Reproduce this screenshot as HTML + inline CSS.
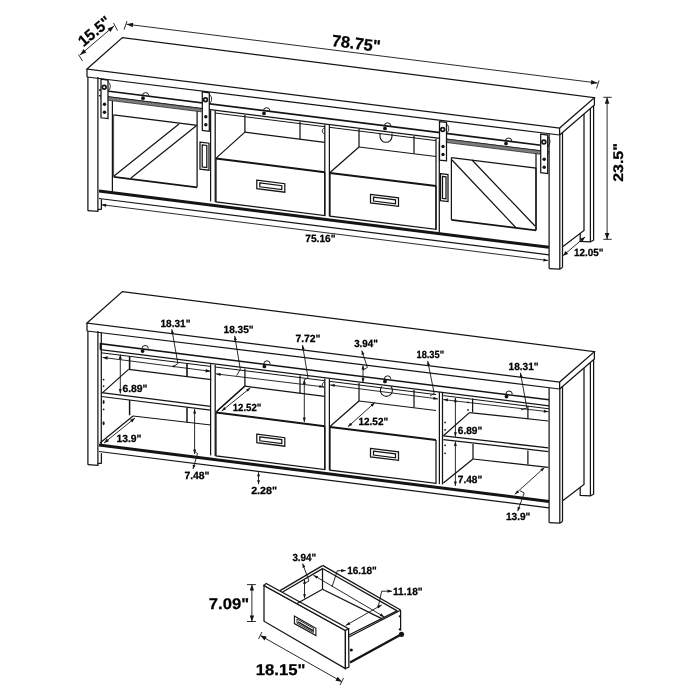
<!DOCTYPE html>
<html><head><meta charset="utf-8"><style>
html,body{margin:0;padding:0;background:#fff;}
svg{display:block;}
text{font-family:"Liberation Sans",sans-serif;font-weight:bold;fill:#000;stroke:#000;stroke-width:0.25px;text-rendering:geometricPrecision;}
svg{will-change:transform;}
</style></head><body>
<svg width="700" height="700" viewBox="0 0 700 700">
<rect width="700" height="700" fill="#fff"/>
<polygon points="87.0,69.0 122.4,37.6 594.4,97.6 559.6,128.0" fill="none" stroke="#141414" stroke-width="1.25" stroke-linejoin="miter"/>
<line x1="87.0" y1="77.0" x2="559.6" y2="135.0" stroke="#141414" stroke-width="1.25"/>
<line x1="87.0" y1="69.0" x2="87.0" y2="77.0" stroke="#141414" stroke-width="1.25"/>
<line x1="559.6" y1="128.0" x2="559.6" y2="135.0" stroke="#141414" stroke-width="1.25"/>
<polyline points="594.4,97.6 594.4,105.0 559.6,135.0" fill="none" stroke="#141414" stroke-width="1.25" stroke-linejoin="miter"/>
<line x1="87.9" y1="77.0" x2="87.9" y2="210.7" stroke="#141414" stroke-width="1.25"/>
<line x1="97.9" y1="77.0" x2="97.9" y2="209.6" stroke="#141414" stroke-width="1.25"/>
<polyline points="87.9,210.7 97.9,211.4 97.9,209.6 101.4,209.2 101.4,199.3" fill="none" stroke="#141414" stroke-width="1.25" stroke-linejoin="miter"/>
<line x1="549.1" y1="134.0" x2="549.1" y2="268.6" stroke="#141414" stroke-width="1.25"/>
<line x1="559.8" y1="135.0" x2="559.8" y2="269.1" stroke="#141414" stroke-width="1.25"/>
<line x1="562.5" y1="132.2" x2="562.5" y2="267.5" stroke="#141414" stroke-width="1.25"/>
<polyline points="549.1,268.6 559.8,269.1 562.5,267.5" fill="none" stroke="#141414" stroke-width="1.25" stroke-linejoin="miter"/>
<polyline points="584.0,114.0 584.0,230.5 563.0,246.6" fill="none" stroke="#141414" stroke-width="1.25" stroke-linejoin="miter"/>
<polyline points="580.2,233.2 580.2,241.3 590.4,241.8 593.6,240.2 593.6,105.7" fill="none" stroke="#141414" stroke-width="1.25" stroke-linejoin="miter"/>
<line x1="590.4" y1="108.4" x2="590.4" y2="241.8" stroke="#141414" stroke-width="1.25"/>
<line x1="99.0" y1="90.0" x2="549.0" y2="146.2" stroke="#141414" stroke-width="1.6"/>
<line x1="99.0" y1="95.7" x2="549.0" y2="151.9" stroke="#141414" stroke-width="1.25"/>
<line x1="99.0" y1="191.1" x2="549.0" y2="247.3" stroke="#141414" stroke-width="3"/>
<line x1="99.0" y1="198.5" x2="549.0" y2="254.8" stroke="#141414" stroke-width="1.25"/>
<line x1="101.6" y1="204.7" x2="548.0" y2="260.5" stroke="#141414" stroke-width="0.9"/>
<polygon points="101.6,204.7 106.3,203.7 105.9,206.9" fill="#141414"/>
<polygon points="548.0,260.5 543.3,261.6 543.7,258.4" fill="#141414"/>
<polygon points="101.0,96.0 201.0,108.5 201.0,111.8 101.0,99.3" fill="#b0b0b0" stroke="#141414" stroke-width="0.7" stroke-linejoin="miter"/>
<line x1="101.0" y1="96.2" x2="103.5" y2="99.5" stroke="#333" stroke-width="0.6"/>
<line x1="102.6" y1="96.4" x2="105.1" y2="99.7" stroke="#333" stroke-width="0.6"/>
<line x1="104.2" y1="96.6" x2="106.7" y2="99.9" stroke="#333" stroke-width="0.6"/>
<line x1="105.8" y1="96.8" x2="108.3" y2="100.1" stroke="#333" stroke-width="0.6"/>
<line x1="107.4" y1="97.0" x2="109.9" y2="100.3" stroke="#333" stroke-width="0.6"/>
<line x1="109.0" y1="97.2" x2="111.5" y2="100.5" stroke="#333" stroke-width="0.6"/>
<line x1="110.6" y1="97.3" x2="113.1" y2="100.7" stroke="#333" stroke-width="0.6"/>
<line x1="112.2" y1="97.5" x2="114.7" y2="100.9" stroke="#333" stroke-width="0.6"/>
<line x1="113.8" y1="97.8" x2="116.3" y2="101.1" stroke="#333" stroke-width="0.6"/>
<line x1="115.4" y1="98.0" x2="117.9" y2="101.3" stroke="#333" stroke-width="0.6"/>
<line x1="117.0" y1="98.2" x2="119.5" y2="101.5" stroke="#333" stroke-width="0.6"/>
<line x1="118.6" y1="98.3" x2="121.1" y2="101.7" stroke="#333" stroke-width="0.6"/>
<line x1="120.2" y1="98.5" x2="122.7" y2="101.9" stroke="#333" stroke-width="0.6"/>
<line x1="121.8" y1="98.8" x2="124.3" y2="102.1" stroke="#333" stroke-width="0.6"/>
<line x1="123.4" y1="98.9" x2="125.9" y2="102.3" stroke="#333" stroke-width="0.6"/>
<line x1="125.0" y1="99.1" x2="127.5" y2="102.5" stroke="#333" stroke-width="0.6"/>
<line x1="126.6" y1="99.3" x2="129.1" y2="102.7" stroke="#333" stroke-width="0.6"/>
<line x1="128.2" y1="99.5" x2="130.7" y2="102.9" stroke="#333" stroke-width="0.6"/>
<line x1="129.8" y1="99.8" x2="132.3" y2="103.1" stroke="#333" stroke-width="0.6"/>
<line x1="131.4" y1="99.9" x2="133.9" y2="103.3" stroke="#333" stroke-width="0.6"/>
<line x1="133.0" y1="100.1" x2="135.5" y2="103.5" stroke="#333" stroke-width="0.6"/>
<line x1="134.6" y1="100.3" x2="137.1" y2="103.7" stroke="#333" stroke-width="0.6"/>
<line x1="136.2" y1="100.5" x2="138.7" y2="103.9" stroke="#333" stroke-width="0.6"/>
<line x1="137.8" y1="100.7" x2="140.3" y2="104.1" stroke="#333" stroke-width="0.6"/>
<line x1="139.4" y1="100.9" x2="141.9" y2="104.3" stroke="#333" stroke-width="0.6"/>
<line x1="141.0" y1="101.1" x2="143.5" y2="104.5" stroke="#333" stroke-width="0.6"/>
<line x1="142.6" y1="101.3" x2="145.1" y2="104.7" stroke="#333" stroke-width="0.6"/>
<line x1="144.2" y1="101.5" x2="146.7" y2="104.9" stroke="#333" stroke-width="0.6"/>
<line x1="145.8" y1="101.7" x2="148.3" y2="105.1" stroke="#333" stroke-width="0.6"/>
<line x1="147.4" y1="101.9" x2="149.9" y2="105.3" stroke="#333" stroke-width="0.6"/>
<line x1="149.0" y1="102.1" x2="151.5" y2="105.5" stroke="#333" stroke-width="0.6"/>
<line x1="150.6" y1="102.3" x2="153.1" y2="105.7" stroke="#333" stroke-width="0.6"/>
<line x1="152.2" y1="102.5" x2="154.7" y2="105.9" stroke="#333" stroke-width="0.6"/>
<line x1="153.8" y1="102.7" x2="156.3" y2="106.1" stroke="#333" stroke-width="0.6"/>
<line x1="155.4" y1="102.9" x2="157.9" y2="106.3" stroke="#333" stroke-width="0.6"/>
<line x1="157.0" y1="103.1" x2="159.5" y2="106.5" stroke="#333" stroke-width="0.6"/>
<line x1="158.6" y1="103.3" x2="161.1" y2="106.7" stroke="#333" stroke-width="0.6"/>
<line x1="160.2" y1="103.5" x2="162.7" y2="106.9" stroke="#333" stroke-width="0.6"/>
<line x1="161.8" y1="103.7" x2="164.3" y2="107.1" stroke="#333" stroke-width="0.6"/>
<line x1="163.4" y1="103.9" x2="165.9" y2="107.3" stroke="#333" stroke-width="0.6"/>
<line x1="165.0" y1="104.1" x2="167.5" y2="107.5" stroke="#333" stroke-width="0.6"/>
<line x1="166.6" y1="104.3" x2="169.1" y2="107.7" stroke="#333" stroke-width="0.6"/>
<line x1="168.2" y1="104.5" x2="170.7" y2="107.9" stroke="#333" stroke-width="0.6"/>
<line x1="169.8" y1="104.7" x2="172.3" y2="108.1" stroke="#333" stroke-width="0.6"/>
<line x1="171.4" y1="104.9" x2="173.9" y2="108.3" stroke="#333" stroke-width="0.6"/>
<line x1="173.0" y1="105.1" x2="175.5" y2="108.5" stroke="#333" stroke-width="0.6"/>
<line x1="174.6" y1="105.3" x2="177.1" y2="108.7" stroke="#333" stroke-width="0.6"/>
<line x1="176.2" y1="105.5" x2="178.7" y2="108.9" stroke="#333" stroke-width="0.6"/>
<line x1="177.8" y1="105.7" x2="180.3" y2="109.1" stroke="#333" stroke-width="0.6"/>
<line x1="179.4" y1="105.9" x2="181.9" y2="109.3" stroke="#333" stroke-width="0.6"/>
<line x1="181.0" y1="106.1" x2="183.5" y2="109.5" stroke="#333" stroke-width="0.6"/>
<line x1="182.6" y1="106.3" x2="185.1" y2="109.7" stroke="#333" stroke-width="0.6"/>
<line x1="184.2" y1="106.5" x2="186.7" y2="109.9" stroke="#333" stroke-width="0.6"/>
<line x1="185.8" y1="106.7" x2="188.3" y2="110.1" stroke="#333" stroke-width="0.6"/>
<line x1="187.4" y1="106.9" x2="189.9" y2="110.3" stroke="#333" stroke-width="0.6"/>
<line x1="189.0" y1="107.1" x2="191.5" y2="110.5" stroke="#333" stroke-width="0.6"/>
<line x1="190.6" y1="107.3" x2="193.1" y2="110.7" stroke="#333" stroke-width="0.6"/>
<line x1="192.2" y1="107.5" x2="194.7" y2="110.9" stroke="#333" stroke-width="0.6"/>
<line x1="193.8" y1="107.7" x2="196.3" y2="111.1" stroke="#333" stroke-width="0.6"/>
<line x1="195.4" y1="107.9" x2="197.9" y2="111.3" stroke="#333" stroke-width="0.6"/>
<line x1="197.0" y1="108.1" x2="199.5" y2="111.5" stroke="#333" stroke-width="0.6"/>
<line x1="198.6" y1="108.3" x2="201.1" y2="111.7" stroke="#333" stroke-width="0.6"/>
<polygon points="440.0,138.3 548.0,151.8 548.0,155.2 440.0,141.7" fill="#b0b0b0" stroke="#141414" stroke-width="0.7" stroke-linejoin="miter"/>
<line x1="440.0" y1="138.5" x2="442.5" y2="141.8" stroke="#333" stroke-width="0.6"/>
<line x1="441.6" y1="138.7" x2="444.1" y2="142.0" stroke="#333" stroke-width="0.6"/>
<line x1="443.2" y1="138.9" x2="445.7" y2="142.2" stroke="#333" stroke-width="0.6"/>
<line x1="444.8" y1="139.1" x2="447.3" y2="142.4" stroke="#333" stroke-width="0.6"/>
<line x1="446.4" y1="139.3" x2="448.9" y2="142.6" stroke="#333" stroke-width="0.6"/>
<line x1="448.0" y1="139.5" x2="450.5" y2="142.8" stroke="#333" stroke-width="0.6"/>
<line x1="449.6" y1="139.7" x2="452.1" y2="143.0" stroke="#333" stroke-width="0.6"/>
<line x1="451.2" y1="139.9" x2="453.7" y2="143.2" stroke="#333" stroke-width="0.6"/>
<line x1="452.8" y1="140.1" x2="455.3" y2="143.4" stroke="#333" stroke-width="0.6"/>
<line x1="454.4" y1="140.3" x2="456.9" y2="143.6" stroke="#333" stroke-width="0.6"/>
<line x1="456.0" y1="140.5" x2="458.5" y2="143.8" stroke="#333" stroke-width="0.6"/>
<line x1="457.6" y1="140.7" x2="460.1" y2="144.0" stroke="#333" stroke-width="0.6"/>
<line x1="459.2" y1="140.9" x2="461.7" y2="144.2" stroke="#333" stroke-width="0.6"/>
<line x1="460.8" y1="141.1" x2="463.3" y2="144.4" stroke="#333" stroke-width="0.6"/>
<line x1="462.4" y1="141.3" x2="464.9" y2="144.6" stroke="#333" stroke-width="0.6"/>
<line x1="464.0" y1="141.5" x2="466.5" y2="144.8" stroke="#333" stroke-width="0.6"/>
<line x1="465.6" y1="141.7" x2="468.1" y2="145.0" stroke="#333" stroke-width="0.6"/>
<line x1="467.2" y1="141.9" x2="469.7" y2="145.2" stroke="#333" stroke-width="0.6"/>
<line x1="468.8" y1="142.1" x2="471.3" y2="145.4" stroke="#333" stroke-width="0.6"/>
<line x1="470.4" y1="142.3" x2="472.9" y2="145.6" stroke="#333" stroke-width="0.6"/>
<line x1="472.0" y1="142.5" x2="474.5" y2="145.8" stroke="#333" stroke-width="0.6"/>
<line x1="473.6" y1="142.7" x2="476.1" y2="146.0" stroke="#333" stroke-width="0.6"/>
<line x1="475.2" y1="142.9" x2="477.7" y2="146.2" stroke="#333" stroke-width="0.6"/>
<line x1="476.8" y1="143.1" x2="479.3" y2="146.4" stroke="#333" stroke-width="0.6"/>
<line x1="478.4" y1="143.3" x2="480.9" y2="146.6" stroke="#333" stroke-width="0.6"/>
<line x1="480.0" y1="143.5" x2="482.5" y2="146.8" stroke="#333" stroke-width="0.6"/>
<line x1="481.6" y1="143.7" x2="484.1" y2="147.0" stroke="#333" stroke-width="0.6"/>
<line x1="483.2" y1="143.9" x2="485.7" y2="147.2" stroke="#333" stroke-width="0.6"/>
<line x1="484.8" y1="144.1" x2="487.3" y2="147.4" stroke="#333" stroke-width="0.6"/>
<line x1="486.4" y1="144.3" x2="488.9" y2="147.6" stroke="#333" stroke-width="0.6"/>
<line x1="488.0" y1="144.5" x2="490.5" y2="147.8" stroke="#333" stroke-width="0.6"/>
<line x1="489.6" y1="144.7" x2="492.1" y2="148.0" stroke="#333" stroke-width="0.6"/>
<line x1="491.2" y1="144.9" x2="493.7" y2="148.2" stroke="#333" stroke-width="0.6"/>
<line x1="492.8" y1="145.1" x2="495.3" y2="148.4" stroke="#333" stroke-width="0.6"/>
<line x1="494.4" y1="145.3" x2="496.9" y2="148.6" stroke="#333" stroke-width="0.6"/>
<line x1="496.0" y1="145.5" x2="498.5" y2="148.8" stroke="#333" stroke-width="0.6"/>
<line x1="497.6" y1="145.7" x2="500.1" y2="149.0" stroke="#333" stroke-width="0.6"/>
<line x1="499.2" y1="145.9" x2="501.7" y2="149.2" stroke="#333" stroke-width="0.6"/>
<line x1="500.8" y1="146.1" x2="503.3" y2="149.4" stroke="#333" stroke-width="0.6"/>
<line x1="502.4" y1="146.3" x2="504.9" y2="149.6" stroke="#333" stroke-width="0.6"/>
<line x1="504.0" y1="146.5" x2="506.5" y2="149.8" stroke="#333" stroke-width="0.6"/>
<line x1="505.6" y1="146.7" x2="508.1" y2="150.0" stroke="#333" stroke-width="0.6"/>
<line x1="507.2" y1="146.9" x2="509.7" y2="150.2" stroke="#333" stroke-width="0.6"/>
<line x1="508.8" y1="147.1" x2="511.3" y2="150.4" stroke="#333" stroke-width="0.6"/>
<line x1="510.4" y1="147.3" x2="512.9" y2="150.6" stroke="#333" stroke-width="0.6"/>
<line x1="512.0" y1="147.5" x2="514.5" y2="150.8" stroke="#333" stroke-width="0.6"/>
<line x1="513.6" y1="147.7" x2="516.1" y2="151.0" stroke="#333" stroke-width="0.6"/>
<line x1="515.2" y1="147.9" x2="517.7" y2="151.2" stroke="#333" stroke-width="0.6"/>
<line x1="516.8" y1="148.1" x2="519.3" y2="151.4" stroke="#333" stroke-width="0.6"/>
<line x1="518.4" y1="148.3" x2="520.9" y2="151.6" stroke="#333" stroke-width="0.6"/>
<line x1="520.0" y1="148.5" x2="522.5" y2="151.8" stroke="#333" stroke-width="0.6"/>
<line x1="521.6" y1="148.7" x2="524.1" y2="152.0" stroke="#333" stroke-width="0.6"/>
<line x1="523.2" y1="148.9" x2="525.7" y2="152.2" stroke="#333" stroke-width="0.6"/>
<line x1="524.8" y1="149.1" x2="527.3" y2="152.4" stroke="#333" stroke-width="0.6"/>
<line x1="526.4" y1="149.3" x2="528.9" y2="152.6" stroke="#333" stroke-width="0.6"/>
<line x1="528.0" y1="149.5" x2="530.5" y2="152.8" stroke="#333" stroke-width="0.6"/>
<line x1="529.6" y1="149.7" x2="532.1" y2="153.0" stroke="#333" stroke-width="0.6"/>
<line x1="531.2" y1="149.9" x2="533.7" y2="153.2" stroke="#333" stroke-width="0.6"/>
<line x1="532.8" y1="150.1" x2="535.3" y2="153.4" stroke="#333" stroke-width="0.6"/>
<line x1="534.4" y1="150.3" x2="536.9" y2="153.6" stroke="#333" stroke-width="0.6"/>
<line x1="536.0" y1="150.5" x2="538.5" y2="153.8" stroke="#333" stroke-width="0.6"/>
<line x1="537.6" y1="150.7" x2="540.1" y2="154.0" stroke="#333" stroke-width="0.6"/>
<line x1="539.2" y1="150.9" x2="541.7" y2="154.2" stroke="#333" stroke-width="0.6"/>
<line x1="540.8" y1="151.1" x2="543.3" y2="154.4" stroke="#333" stroke-width="0.6"/>
<line x1="542.4" y1="151.3" x2="544.9" y2="154.6" stroke="#333" stroke-width="0.6"/>
<line x1="544.0" y1="151.5" x2="546.5" y2="154.8" stroke="#333" stroke-width="0.6"/>
<line x1="545.6" y1="151.7" x2="548.1" y2="155.0" stroke="#333" stroke-width="0.6"/>
<line x1="112.4" y1="100.7" x2="112.4" y2="191.7" stroke="#141414" stroke-width="1.25"/>
<line x1="113.6" y1="114.8" x2="113.6" y2="176.8" stroke="#141414" stroke-width="0.8"/>
<polyline points="113.6,114.8 197.1,125.3 197.1,187.3" fill="none" stroke="#141414" stroke-width="1.25" stroke-linejoin="miter"/>
<line x1="113.6" y1="176.8" x2="197.1" y2="187.3" stroke="#141414" stroke-width="1.8"/>
<line x1="197.1" y1="111.3" x2="197.1" y2="125.3" stroke="#141414" stroke-width="1.25"/>
<line x1="114.0" y1="176.0" x2="179.0" y2="124.0" stroke="#141414" stroke-width="1.25"/>
<line x1="131.0" y1="178.0" x2="196.0" y2="126.0" stroke="#141414" stroke-width="1.25"/>
<polygon points="200.0,142.1 209.0,143.2 209.0,170.2 200.0,169.1" fill="none" stroke="#141414" stroke-width="1.25" stroke-linejoin="miter"/>
<polygon points="202.2,144.9 206.8,145.5 206.8,167.5 202.2,166.9" fill="none" stroke="#141414" stroke-width="1.25" stroke-linejoin="miter"/>
<line x1="439.3" y1="141.5" x2="439.3" y2="232.5" stroke="#141414" stroke-width="1.25"/>
<line x1="451.4" y1="157.6" x2="451.4" y2="219.8" stroke="#141414" stroke-width="1.25"/>
<polyline points="451.4,157.6 536.0,168.1 536.0,230.3" fill="none" stroke="#141414" stroke-width="1.25" stroke-linejoin="miter"/>
<line x1="451.4" y1="219.8" x2="536.0" y2="230.3" stroke="#141414" stroke-width="1.8"/>
<line x1="536.0" y1="153.6" x2="536.0" y2="230.3" stroke="#141414" stroke-width="1.25"/>
<line x1="452.0" y1="160.0" x2="516.0" y2="227.8" stroke="#141414" stroke-width="1.25"/>
<line x1="472.0" y1="160.0" x2="535.0" y2="226.0" stroke="#141414" stroke-width="1.25"/>
<polygon points="440.5,173.7 448.0,174.6 448.0,201.6 440.5,200.7" fill="none" stroke="#141414" stroke-width="1.25" stroke-linejoin="miter"/>
<polygon points="442.5,176.4 446.0,176.9 446.0,198.9 442.5,198.4" fill="none" stroke="#141414" stroke-width="1.25" stroke-linejoin="miter"/>
<line x1="210.6" y1="110.2" x2="210.6" y2="201.4" stroke="#141414" stroke-width="1.25"/>
<line x1="215.2" y1="110.8" x2="215.2" y2="202.0" stroke="#141414" stroke-width="1.25"/>
<line x1="324.8" y1="124.5" x2="324.8" y2="215.7" stroke="#141414" stroke-width="1.25"/>
<line x1="329.4" y1="125.1" x2="329.4" y2="216.3" stroke="#141414" stroke-width="1.25"/>
<line x1="436.0" y1="138.4" x2="436.0" y2="229.6" stroke="#141414" stroke-width="1.25"/>
<polyline points="216.0,158.6 324.8,172.2" fill="none" stroke="#141414" stroke-width="2" stroke-linejoin="miter"/>
<polyline points="216.0,158.6 216.0,201.9 324.8,215.5 324.8,172.2" fill="none" stroke="#141414" stroke-width="1.25" stroke-linejoin="miter"/>
<polygon points="256.8,180.2 284.8,183.7 284.8,192.2 256.8,188.7" fill="none" stroke="#141414" stroke-width="1.25" stroke-linejoin="miter"/>
<polygon points="259.8,182.9 281.8,185.7 281.8,189.5 259.8,186.8" fill="none" stroke="#141414" stroke-width="1.25" stroke-linejoin="miter"/>
<polyline points="330.0,172.9 436.0,186.1" fill="none" stroke="#141414" stroke-width="2" stroke-linejoin="miter"/>
<polyline points="330.0,172.9 330.0,216.2 436.0,229.4 436.0,186.1" fill="none" stroke="#141414" stroke-width="1.25" stroke-linejoin="miter"/>
<polygon points="370.5,194.4 398.5,197.9 398.5,206.4 370.5,202.9" fill="none" stroke="#141414" stroke-width="1.25" stroke-linejoin="miter"/>
<polygon points="373.5,197.1 395.5,199.9 395.5,203.8 373.5,201.0" fill="none" stroke="#141414" stroke-width="1.25" stroke-linejoin="miter"/>
<line x1="215.2" y1="113.0" x2="324.8" y2="126.7" stroke="#141414" stroke-width="1"/>
<line x1="244.9" y1="114.7" x2="244.9" y2="132.1" stroke="#141414" stroke-width="1.25"/>
<line x1="300.0" y1="121.6" x2="300.0" y2="139.6" stroke="#141414" stroke-width="1.25"/>
<line x1="244.9" y1="132.1" x2="324.8" y2="142.4" stroke="#141414" stroke-width="1.25"/>
<line x1="216.1" y1="158.1" x2="244.9" y2="132.1" stroke="#141414" stroke-width="1.25"/>
<line x1="329.4" y1="127.3" x2="436.0" y2="140.6" stroke="#141414" stroke-width="1"/>
<line x1="359.0" y1="129.0" x2="359.0" y2="147.0" stroke="#141414" stroke-width="1.25"/>
<line x1="414.0" y1="136.0" x2="414.0" y2="153.5" stroke="#141414" stroke-width="1.25"/>
<line x1="359.0" y1="147.0" x2="436.0" y2="156.5" stroke="#141414" stroke-width="1.25"/>
<line x1="330.0" y1="172.5" x2="359.0" y2="147.0" stroke="#141414" stroke-width="1.25"/>
<path d="M380.0,133.3 L380.0,136.3 A6,6 0 0 0 392.0,136.3 L392.0,133.6" fill="none" stroke="#141414" stroke-width="1.1"/>
<path d="M324.5,128.0 C321.5,129.0 321.5,133.0 324.5,134.0" fill="none" stroke="#141414" stroke-width="0.9"/>
<polygon points="101.0,79.2 108.0,80.1 108.0,118.6 101.0,117.8" fill="#fff" stroke="#141414" stroke-width="1.25" stroke-linejoin="miter"/>
<circle cx="104.5" cy="104.2" r="1.7" fill="#141414"/>
<circle cx="104.5" cy="112.2" r="1.7" fill="#141414"/>
<circle cx="104.2" cy="87.2" r="1.9" fill="none" stroke="#141414" stroke-width="1.7"/>
<path d="M108.0,81.6 C111.0,83.6 111.0,89.6 108.0,90.6" fill="none" stroke="#141414" stroke-width="0.9"/>
<polygon points="202.3,91.9 209.3,92.8 209.3,131.3 202.3,130.4" fill="#fff" stroke="#141414" stroke-width="1.25" stroke-linejoin="miter"/>
<circle cx="205.8" cy="116.8" r="1.7" fill="#141414"/>
<circle cx="205.8" cy="124.8" r="1.7" fill="#141414"/>
<circle cx="205.5" cy="99.8" r="1.9" fill="none" stroke="#141414" stroke-width="1.7"/>
<path d="M209.3,94.3 C212.3,96.3 212.3,102.3 209.3,103.3" fill="none" stroke="#141414" stroke-width="0.9"/>
<polygon points="439.5,121.6 446.5,122.4 446.5,160.9 439.5,160.1" fill="#fff" stroke="#141414" stroke-width="1.25" stroke-linejoin="miter"/>
<circle cx="443.0" cy="146.5" r="1.7" fill="#141414"/>
<circle cx="443.0" cy="154.5" r="1.7" fill="#141414"/>
<circle cx="442.7" cy="129.5" r="1.9" fill="none" stroke="#141414" stroke-width="1.7"/>
<path d="M446.5,123.9 C449.5,125.9 449.5,131.9 446.5,132.9" fill="none" stroke="#141414" stroke-width="0.9"/>
<polygon points="540.7,134.2 547.7,135.1 547.7,173.6 540.7,172.7" fill="#fff" stroke="#141414" stroke-width="1.25" stroke-linejoin="miter"/>
<circle cx="544.2" cy="159.2" r="1.7" fill="#141414"/>
<circle cx="544.2" cy="167.2" r="1.7" fill="#141414"/>
<circle cx="543.9" cy="142.1" r="1.9" fill="none" stroke="#141414" stroke-width="1.7"/>
<path d="M547.7,136.6 C550.7,138.6 550.7,144.6 547.7,145.6" fill="none" stroke="#141414" stroke-width="0.9"/>
<circle cx="143.0" cy="98.2" r="1.9" fill="#141414"/>
<path d="M142.4,95.9 A3.2,3.2 0 0 1 148.8,95.7" fill="none" stroke="#141414" stroke-width="1.0"/>
<circle cx="264.0" cy="113.3" r="1.9" fill="#141414"/>
<path d="M263.4,111.0 A3.2,3.2 0 0 1 269.8,110.8" fill="none" stroke="#141414" stroke-width="1.0"/>
<circle cx="385.0" cy="128.4" r="1.9" fill="#141414"/>
<path d="M384.4,126.1 A3.2,3.2 0 0 1 390.8,125.9" fill="none" stroke="#141414" stroke-width="1.0"/>
<circle cx="506.0" cy="143.6" r="1.9" fill="#141414"/>
<path d="M505.4,141.3 A3.2,3.2 0 0 1 511.8,141.1" fill="none" stroke="#141414" stroke-width="1.0"/>
<line x1="80.0" y1="55.0" x2="114.0" y2="26.0" stroke="#141414" stroke-width="0.9"/>
<polygon points="80.0,55.0 83.5,49.0 86.4,52.5" fill="#141414"/>
<polygon points="114.0,26.0 110.5,32.0 107.6,28.5" fill="#141414"/>
<line x1="78.5" y1="54.5" x2="82.5" y2="61.0" stroke="#141414" stroke-width="0.9"/>
<line x1="113.5" y1="23.0" x2="117.5" y2="30.5" stroke="#141414" stroke-width="0.9"/>
<line x1="126.5" y1="24.2" x2="597.5" y2="83.0" stroke="#141414" stroke-width="0.9"/>
<polygon points="126.5,24.2 133.2,22.7 132.7,27.3" fill="#141414"/>
<polygon points="597.5,83.0 590.8,84.5 591.3,79.9" fill="#141414"/>
<line x1="124.0" y1="29.7" x2="127.0" y2="21.1" stroke="#141414" stroke-width="0.9"/>
<line x1="596.5" y1="88.5" x2="599.0" y2="80.5" stroke="#141414" stroke-width="0.9"/>
<line x1="607.1" y1="97.3" x2="607.1" y2="239.5" stroke="#141414" stroke-width="0.9"/>
<polygon points="607.1,97.3 609.4,103.8 604.8,103.8" fill="#141414"/>
<polygon points="607.1,239.5 604.8,233.0 609.4,233.0" fill="#141414"/>
<line x1="603.3" y1="97.3" x2="611.7" y2="97.3" stroke="#141414" stroke-width="0.9"/>
<line x1="603.3" y1="239.3" x2="611.7" y2="239.3" stroke="#141414" stroke-width="0.9"/>
<line x1="563.0" y1="255.7" x2="585.0" y2="237.0" stroke="#141414" stroke-width="0.9"/>
<polygon points="563.0,255.7 565.5,250.9 568.1,254.0" fill="#141414"/>
<polygon points="585.0,237.0 582.5,241.8 579.9,238.7" fill="#141414"/>
<text x="355.5" y="49.0" font-size="16.5" text-anchor="middle" transform="rotate(7.2 355.5 49.0)">78.75"</text>
<text x="97.8" y="35.3" font-size="15.5" text-anchor="middle" transform="rotate(-40 97.8 35.3)">15.5"</text>
<text x="622.5" y="162.5" font-size="14" text-anchor="middle" transform="rotate(-90 622.5 162.5)" textLength="38.5" lengthAdjust="spacingAndGlyphs">23.5"</text>
<text x="320.43" y="242.34" font-size="10.40" text-anchor="middle" textLength="30.27" lengthAdjust="spacingAndGlyphs">75.16"</text>
<text x="588.75" y="256.14" font-size="10.40" text-anchor="middle" textLength="29.35" lengthAdjust="spacingAndGlyphs">12.05"</text>
<polygon points="87.0,323.0 122.4,291.6 594.4,351.6 559.6,382.0" fill="none" stroke="#141414" stroke-width="1.25" stroke-linejoin="miter"/>
<line x1="87.0" y1="331.0" x2="559.6" y2="389.0" stroke="#141414" stroke-width="1.25"/>
<line x1="87.0" y1="323.0" x2="87.0" y2="331.0" stroke="#141414" stroke-width="1.25"/>
<line x1="559.6" y1="382.0" x2="559.6" y2="389.0" stroke="#141414" stroke-width="1.25"/>
<polyline points="594.4,351.6 594.4,359.0 559.6,389.0" fill="none" stroke="#141414" stroke-width="1.25" stroke-linejoin="miter"/>
<line x1="87.9" y1="331.0" x2="87.9" y2="464.7" stroke="#141414" stroke-width="1.25"/>
<line x1="97.9" y1="331.0" x2="97.9" y2="463.6" stroke="#141414" stroke-width="1.25"/>
<polyline points="87.9,464.7 97.9,465.4 97.9,463.6 101.4,463.2 101.4,453.3" fill="none" stroke="#141414" stroke-width="1.25" stroke-linejoin="miter"/>
<line x1="101.3" y1="332.0" x2="101.3" y2="446.0" stroke="#141414" stroke-width="1.25"/>
<line x1="549.1" y1="388.0" x2="549.1" y2="522.6" stroke="#141414" stroke-width="1.25"/>
<line x1="559.8" y1="389.0" x2="559.8" y2="523.1" stroke="#141414" stroke-width="1.25"/>
<line x1="562.5" y1="386.2" x2="562.5" y2="521.5" stroke="#141414" stroke-width="1.25"/>
<polyline points="549.1,522.6 559.8,523.1 562.5,521.5" fill="none" stroke="#141414" stroke-width="1.25" stroke-linejoin="miter"/>
<polyline points="584.0,368.0 584.0,484.5 563.0,500.6" fill="none" stroke="#141414" stroke-width="1.25" stroke-linejoin="miter"/>
<polyline points="580.2,487.2 580.2,495.3 590.4,495.8 593.6,494.2 593.6,359.7" fill="none" stroke="#141414" stroke-width="1.25" stroke-linejoin="miter"/>
<line x1="590.4" y1="362.4" x2="590.4" y2="495.8" stroke="#141414" stroke-width="1.25"/>
<polyline points="100.4,349.7 100.4,343.7 549.0,399.8" fill="none" stroke="#141414" stroke-width="1.5" stroke-linejoin="miter"/>
<line x1="100.4" y1="349.7" x2="549.0" y2="405.8" stroke="#141414" stroke-width="1.25"/>
<line x1="99.0" y1="445.1" x2="549.0" y2="501.4" stroke="#141414" stroke-width="3"/>
<line x1="99.0" y1="451.5" x2="549.0" y2="507.8" stroke="#141414" stroke-width="1.25"/>
<line x1="215.2" y1="367.0" x2="324.8" y2="380.7" stroke="#141414" stroke-width="1"/>
<line x1="244.9" y1="368.7" x2="244.9" y2="386.1" stroke="#141414" stroke-width="1.25"/>
<line x1="300.0" y1="375.6" x2="300.0" y2="393.6" stroke="#141414" stroke-width="1.25"/>
<line x1="244.9" y1="386.1" x2="324.8" y2="396.4" stroke="#141414" stroke-width="1.25"/>
<line x1="216.1" y1="412.1" x2="244.9" y2="386.1" stroke="#141414" stroke-width="1.25"/>
<line x1="329.4" y1="381.3" x2="436.0" y2="394.6" stroke="#141414" stroke-width="1"/>
<line x1="359.0" y1="383.0" x2="359.0" y2="401.0" stroke="#141414" stroke-width="1.25"/>
<line x1="414.0" y1="390.0" x2="414.0" y2="407.5" stroke="#141414" stroke-width="1.25"/>
<line x1="359.0" y1="401.0" x2="436.0" y2="410.5" stroke="#141414" stroke-width="1.25"/>
<line x1="330.0" y1="426.5" x2="359.0" y2="401.0" stroke="#141414" stroke-width="1.25"/>
<path d="M324.5,382.0 C321.5,383.0 321.5,387.0 324.5,388.0" fill="none" stroke="#141414" stroke-width="0.9"/>
<polyline points="216.0,412.6 324.8,426.2" fill="none" stroke="#141414" stroke-width="2" stroke-linejoin="miter"/>
<polyline points="216.0,412.6 216.0,455.9 324.8,469.5 324.8,426.2" fill="none" stroke="#141414" stroke-width="1.25" stroke-linejoin="miter"/>
<polygon points="256.8,434.2 284.8,437.7 284.8,446.2 256.8,442.7" fill="none" stroke="#141414" stroke-width="1.25" stroke-linejoin="miter"/>
<polygon points="259.8,436.9 281.8,439.6 281.8,443.5 259.8,440.8" fill="none" stroke="#141414" stroke-width="1.25" stroke-linejoin="miter"/>
<polyline points="330.0,426.9 436.0,440.1" fill="none" stroke="#141414" stroke-width="2" stroke-linejoin="miter"/>
<polyline points="330.0,426.9 330.0,470.2 436.0,483.4 436.0,440.1" fill="none" stroke="#141414" stroke-width="1.25" stroke-linejoin="miter"/>
<polygon points="370.5,448.4 398.5,451.9 398.5,460.4 370.5,456.9" fill="none" stroke="#141414" stroke-width="1.25" stroke-linejoin="miter"/>
<polygon points="373.5,451.1 395.5,453.9 395.5,457.8 373.5,455.0" fill="none" stroke="#141414" stroke-width="1.25" stroke-linejoin="miter"/>
<line x1="210.6" y1="364.2" x2="210.6" y2="455.4" stroke="#141414" stroke-width="1.25"/>
<line x1="215.2" y1="364.8" x2="215.2" y2="456.0" stroke="#141414" stroke-width="1.25"/>
<line x1="324.8" y1="378.5" x2="324.8" y2="469.7" stroke="#141414" stroke-width="1.25"/>
<line x1="329.4" y1="379.1" x2="329.4" y2="470.3" stroke="#141414" stroke-width="1.25"/>
<line x1="439.4" y1="392.1" x2="439.4" y2="484.1" stroke="#141414" stroke-width="1.25"/>
<line x1="442.5" y1="392.4" x2="442.5" y2="484.4" stroke="#141414" stroke-width="1.25"/>
<circle cx="142.6" cy="351.1" r="1.9" fill="#141414"/>
<path d="M142.0,348.8 A3.2,3.2 0 0 1 148.4,348.6" fill="none" stroke="#141414" stroke-width="1.0"/>
<circle cx="264.4" cy="366.4" r="1.9" fill="#141414"/>
<path d="M263.8,364.1 A3.2,3.2 0 0 1 270.2,363.9" fill="none" stroke="#141414" stroke-width="1.0"/>
<circle cx="385.0" cy="381.4" r="1.9" fill="#141414"/>
<path d="M384.4,379.1 A3.2,3.2 0 0 1 390.8,378.9" fill="none" stroke="#141414" stroke-width="1.0"/>
<circle cx="506.5" cy="396.6" r="1.9" fill="#141414"/>
<path d="M505.9,394.3 A3.2,3.2 0 0 1 512.3,394.1" fill="none" stroke="#141414" stroke-width="1.0"/>
<line x1="101.3" y1="352.8" x2="210.6" y2="366.4" stroke="#141414" stroke-width="1"/>
<line x1="129.6" y1="356.3" x2="129.6" y2="369.3" stroke="#141414" stroke-width="1.6"/>
<line x1="129.6" y1="400.0" x2="129.6" y2="415.3" stroke="#141414" stroke-width="1.5"/>
<line x1="187.0" y1="363.5" x2="187.0" y2="376.5" stroke="#141414" stroke-width="1.6"/>
<line x1="187.0" y1="407.2" x2="187.0" y2="422.5" stroke="#141414" stroke-width="1.5"/>
<polyline points="101.4,392.7 210.6,406.4" fill="none" stroke="#141414" stroke-width="1.25" stroke-linejoin="miter"/>
<polyline points="101.4,396.5 210.6,410.1" fill="none" stroke="#141414" stroke-width="1.25" stroke-linejoin="miter"/>
<line x1="128.6" y1="369.4" x2="211.3" y2="379.6" stroke="#141414" stroke-width="1.25"/>
<line x1="102.6" y1="392.6" x2="128.6" y2="369.4" stroke="#141414" stroke-width="1.25"/>
<line x1="133.0" y1="416.0" x2="211.0" y2="425.0" stroke="#141414" stroke-width="1.25"/>
<line x1="100.0" y1="443.0" x2="133.0" y2="416.0" stroke="#141414" stroke-width="1.25"/>
<line x1="104.0" y1="443.0" x2="135.0" y2="418.0" stroke="#141414" stroke-width="0.9"/>
<polygon points="104.0,443.0 106.8,438.5 109.0,441.3" fill="#141414"/>
<polygon points="135.0,418.0 132.2,422.5 130.0,419.7" fill="#141414"/>
<line x1="102.6" y1="357.4" x2="210.6" y2="371.3" stroke="#141414" stroke-width="0.9"/>
<polygon points="102.6,357.4 107.8,356.3 107.3,359.8" fill="#141414"/>
<polygon points="210.6,371.3 205.4,372.4 205.9,368.9" fill="#141414"/>
<polyline points="171.8,329.3 177.5,361.4 178.0,363.5 173.6,366.4" fill="none" stroke="#141414" stroke-width="0.9" stroke-linejoin="miter"/>
<polygon points="171.8,329.3 174.1,333.5 171.1,334.0" fill="#141414"/>
<circle cx="173.8" cy="366.3" r="1.1" fill="#141414"/>
<line x1="120.3" y1="354.6" x2="120.3" y2="393.6" stroke="#141414" stroke-width="0.9"/>
<polygon points="120.3,354.6 121.8,359.1 118.8,359.1" fill="#141414"/>
<polygon points="120.3,393.6 118.8,389.1 121.8,389.1" fill="#141414"/>
<line x1="194.6" y1="409.0" x2="194.6" y2="454.0" stroke="#141414" stroke-width="0.9"/>
<polygon points="194.6,409.0 196.1,413.5 193.1,413.5" fill="#141414"/>
<polygon points="194.6,454.0 193.1,449.5 196.1,449.5" fill="#141414"/>
<polyline points="194.8,451.5 197.5,453.5 193.0,469.0" fill="none" stroke="#141414" stroke-width="0.9" stroke-linejoin="miter"/>
<polygon points="193.0,469.0 192.7,464.7 195.6,465.6" fill="#141414"/>
<circle cx="103.6" cy="379.6" r="0.9" fill="#141414"/>
<circle cx="103.6" cy="386.1" r="0.9" fill="#141414"/>
<circle cx="103.6" cy="409.4" r="0.9" fill="#141414"/>
<ellipse cx="103.6" cy="401.9" rx="1" ry="2" fill="#141414"/>
<ellipse cx="103.6" cy="423.3" rx="1" ry="2" fill="#141414"/>
<text x="175.50" y="326.60" font-size="10.40" text-anchor="middle" textLength="30.13" lengthAdjust="spacingAndGlyphs">18.31"</text>
<text x="135.00" y="391.60" font-size="10.40" text-anchor="middle" textLength="25.13" lengthAdjust="spacingAndGlyphs">6.89"</text>
<text x="129.00" y="442.00" font-size="10.40" text-anchor="middle" textLength="25.13" lengthAdjust="spacingAndGlyphs">13.9"</text>
<text x="197.00" y="479.00" font-size="10.40" text-anchor="middle" textLength="25.13" lengthAdjust="spacingAndGlyphs">7.48"</text>
<line x1="216.1" y1="373.9" x2="323.8" y2="386.9" stroke="#141414" stroke-width="0.9"/>
<polygon points="216.1,373.9 220.7,373.0 220.4,375.9" fill="#141414"/>
<polygon points="323.8,386.9 319.2,387.8 319.5,384.9" fill="#141414"/>
<polyline points="234.7,335.8 240.3,369.2 236.6,375.7" fill="none" stroke="#141414" stroke-width="0.9" stroke-linejoin="miter"/>
<polygon points="234.7,335.8 236.9,340.0 234.0,340.5" fill="#141414"/>
<line x1="217.0" y1="411.0" x2="244.9" y2="386.0" stroke="#141414" stroke-width="1.25"/>
<line x1="221.7" y1="411.0" x2="250.5" y2="387.8" stroke="#141414" stroke-width="0.9"/>
<polygon points="221.7,411.0 224.3,407.0 226.1,409.3" fill="#141414"/>
<polygon points="250.5,387.8 247.9,391.8 246.1,389.5" fill="#141414"/>
<line x1="304.3" y1="379.4" x2="304.3" y2="422.1" stroke="#141414" stroke-width="0.9"/>
<polygon points="304.3,379.4 305.8,383.9 302.8,383.9" fill="#141414"/>
<polygon points="304.3,422.1 302.8,417.6 305.8,417.6" fill="#141414"/>
<polyline points="302.5,345.0 308.0,377.6 304.3,380.0" fill="none" stroke="#141414" stroke-width="0.9" stroke-linejoin="miter"/>
<polygon points="302.5,345.0 304.7,349.2 301.8,349.7" fill="#141414"/>
<text x="238.61" y="332.84" font-size="10.40" text-anchor="middle" textLength="30.19" lengthAdjust="spacingAndGlyphs">18.35"</text>
<text x="247.04" y="410.84" font-size="10.40" text-anchor="middle" textLength="28.77" lengthAdjust="spacingAndGlyphs">12.52"</text>
<text x="308.00" y="341.98" font-size="10.40" text-anchor="middle" textLength="25.13" lengthAdjust="spacingAndGlyphs">7.72"</text>
<line x1="347.9" y1="426.8" x2="374.8" y2="402.6" stroke="#141414" stroke-width="0.9"/>
<polygon points="347.9,426.8 350.2,422.7 352.2,424.9" fill="#141414"/>
<polygon points="374.8,402.6 372.5,406.7 370.5,404.5" fill="#141414"/>
<line x1="363.0" y1="365.5" x2="363.0" y2="382.2" stroke="#141414" stroke-width="0.9"/>
<polygon points="363.0,365.5 364.5,369.5 361.5,369.5" fill="#141414"/>
<polygon points="363.0,382.2 361.5,378.2 364.5,378.2" fill="#141414"/>
<polyline points="361.8,350.6 367.4,367.4 363.0,370.0" fill="none" stroke="#141414" stroke-width="0.9" stroke-linejoin="miter"/>
<polygon points="361.8,350.6 364.5,353.9 361.6,354.9" fill="#141414"/>
<line x1="330.2" y1="385.0" x2="437.9" y2="398.9" stroke="#141414" stroke-width="0.9"/>
<polygon points="330.2,385.0 334.9,384.1 334.5,387.1" fill="#141414"/>
<polygon points="437.9,398.9 433.2,399.8 433.6,396.8" fill="#141414"/>
<polyline points="427.7,360.9 434.2,393.4 430.0,396.0" fill="none" stroke="#141414" stroke-width="0.9" stroke-linejoin="miter"/>
<polygon points="427.7,360.9 430.1,365.0 427.1,365.6" fill="#141414"/>
<text x="373.32" y="424.92" font-size="10.40" text-anchor="middle" textLength="29.77" lengthAdjust="spacingAndGlyphs">12.52"</text>
<text x="366.00" y="346.60" font-size="10.40" text-anchor="middle" textLength="23.69" lengthAdjust="spacingAndGlyphs">3.94"</text>
<text x="430.29" y="357.84" font-size="10.40" text-anchor="middle" textLength="27.55" lengthAdjust="spacingAndGlyphs">18.35"</text>
<path d="M381.9,386.4 A6,6 0 1 0 390.9,386.4" fill="none" stroke="#141414" stroke-width="1.1"/>
<line x1="443.4" y1="399.6" x2="548.3" y2="411.7" stroke="#141414" stroke-width="0.9"/>
<polygon points="443.4,399.6 448.0,398.6 447.7,401.6" fill="#141414"/>
<polygon points="548.3,411.7 543.7,412.7 544.0,409.7" fill="#141414"/>
<polyline points="520.4,372.7 526.9,408.0 521.0,409.9" fill="none" stroke="#141414" stroke-width="0.9" stroke-linejoin="miter"/>
<polygon points="520.4,372.7 522.7,376.9 519.7,377.4" fill="#141414"/>
<line x1="472.6" y1="398.4" x2="472.6" y2="412.1" stroke="#141414" stroke-width="1.25"/>
<line x1="527.9" y1="406.0" x2="527.9" y2="419.0" stroke="#141414" stroke-width="1.25"/>
<line x1="473.0" y1="444.0" x2="473.0" y2="459.0" stroke="#141414" stroke-width="1.25"/>
<line x1="527.9" y1="450.6" x2="527.9" y2="464.6" stroke="#141414" stroke-width="1.25"/>
<line x1="443.4" y1="435.8" x2="548.3" y2="447.9" stroke="#141414" stroke-width="1.25"/>
<line x1="443.4" y1="439.6" x2="548.3" y2="451.6" stroke="#141414" stroke-width="1.25"/>
<line x1="469.4" y1="412.6" x2="548.3" y2="421.0" stroke="#141414" stroke-width="1.25"/>
<line x1="443.4" y1="435.8" x2="469.4" y2="412.6" stroke="#141414" stroke-width="1.25"/>
<line x1="473.0" y1="459.0" x2="548.3" y2="467.4" stroke="#141414" stroke-width="1.25"/>
<line x1="443.4" y1="483.1" x2="473.0" y2="459.0" stroke="#141414" stroke-width="1.25"/>
<line x1="455.4" y1="397.8" x2="455.4" y2="436.8" stroke="#141414" stroke-width="0.9"/>
<polygon points="455.4,397.8 456.9,402.3 453.9,402.3" fill="#141414"/>
<polygon points="455.4,436.8 453.9,432.3 456.9,432.3" fill="#141414"/>
<line x1="455.4" y1="441.4" x2="455.4" y2="485.9" stroke="#141414" stroke-width="0.9"/>
<polygon points="455.4,441.4 456.9,445.9 453.9,445.9" fill="#141414"/>
<polygon points="455.4,485.9 453.9,481.4 456.9,481.4" fill="#141414"/>
<line x1="514.8" y1="494.3" x2="544.6" y2="467.4" stroke="#141414" stroke-width="0.9"/>
<polygon points="514.8,494.3 517.1,490.2 519.1,492.4" fill="#141414"/>
<polygon points="544.6,467.4 542.3,471.5 540.3,469.3" fill="#141414"/>
<polyline points="520.0,490.7 524.2,493.0 517.7,511.1" fill="none" stroke="#141414" stroke-width="0.9" stroke-linejoin="miter"/>
<polygon points="517.7,511.1 517.6,506.8 520.5,507.8" fill="#141414"/>
<circle cx="445.1" cy="422.4" r="0.9" fill="#141414"/>
<circle cx="445.1" cy="429.9" r="0.9" fill="#141414"/>
<circle cx="445.1" cy="445.3" r="0.9" fill="#141414"/>
<circle cx="445.1" cy="453.3" r="0.9" fill="#141414"/>
<circle cx="468.0" cy="409.9" r="0.9" fill="#141414"/>
<circle cx="468.0" cy="402.3" r="0.9" fill="#141414"/>
<line x1="443.4" y1="395.6" x2="549.0" y2="408.8" stroke="#141414" stroke-width="1"/>
<text x="523.57" y="369.60" font-size="10.40" text-anchor="middle" textLength="29.99" lengthAdjust="spacingAndGlyphs">18.31"</text>
<text x="470.04" y="433.84" font-size="10.40" text-anchor="middle" textLength="24.49" lengthAdjust="spacingAndGlyphs">6.89"</text>
<text x="470.04" y="482.62" font-size="10.40" text-anchor="middle" textLength="24.49" lengthAdjust="spacingAndGlyphs">7.48"</text>
<text x="518.18" y="519.98" font-size="10.40" text-anchor="middle" textLength="24.49" lengthAdjust="spacingAndGlyphs">13.9"</text>
<line x1="258.5" y1="472.2" x2="258.5" y2="484.3" stroke="#141414" stroke-width="0.9"/>
<polygon points="258.5,472.2 260.0,476.2 257.0,476.2" fill="#141414"/>
<polygon points="258.5,484.3 257.0,480.3 260.0,480.3" fill="#141414"/>
<text x="264.11" y="493.94" font-size="10.40" text-anchor="middle" textLength="25.91" lengthAdjust="spacingAndGlyphs">2.28"</text>
<polygon points="264.0,585.5 345.4,630.5 345.4,668.6 264.0,621.2" fill="#fff" stroke="#141414" stroke-width="1.25" stroke-linejoin="miter"/>
<polygon points="264.0,585.5 266.2,583.4 348.6,628.8 345.4,630.5" fill="#fff" stroke="#141414" stroke-width="1.25" stroke-linejoin="miter"/>
<polygon points="345.4,630.5 348.6,628.8 348.9,667.0 345.4,668.6" fill="#fff" stroke="#141414" stroke-width="1.25" stroke-linejoin="miter"/>
<line x1="280.0" y1="590.6" x2="322.5" y2="565.6" stroke="#141414" stroke-width="1.25"/>
<line x1="282.6" y1="592.0" x2="323.0" y2="568.4" stroke="#141414" stroke-width="1.25"/>
<line x1="322.6" y1="565.4" x2="400.6" y2="610.0" stroke="#141414" stroke-width="1.25"/>
<line x1="323.0" y1="568.8" x2="397.2" y2="610.9" stroke="#141414" stroke-width="1.25"/>
<line x1="348.9" y1="637.0" x2="400.6" y2="610.3" stroke="#141414" stroke-width="1.25"/>
<line x1="348.9" y1="635.0" x2="397.5" y2="610.6" stroke="#141414" stroke-width="1.25"/>
<line x1="400.6" y1="610.3" x2="400.6" y2="630.6" stroke="#141414" stroke-width="1.25"/>
<line x1="322.5" y1="568.8" x2="322.5" y2="589.3" stroke="#141414" stroke-width="1.25"/>
<line x1="297.0" y1="603.5" x2="322.5" y2="589.3" stroke="#141414" stroke-width="1.25"/>
<line x1="322.5" y1="589.3" x2="381.7" y2="618.6" stroke="#141414" stroke-width="1.25"/>
<line x1="350.0" y1="662.5" x2="402.0" y2="634.0" stroke="#141414" stroke-width="2.4"/>
<circle cx="401.5" cy="634.3" r="2.6" fill="#141414"/>
<circle cx="399.8" cy="616.3" r="1.1" fill="#141414"/>
<circle cx="399.8" cy="629.4" r="1.1" fill="#141414"/>
<circle cx="351.3" cy="650.0" r="1.6" fill="#141414"/>
<polygon points="294.4,616.1 315.9,628.3 315.9,635.6 294.4,623.6" fill="none" stroke="#141414" stroke-width="1.1" stroke-linejoin="miter"/>
<polygon points="297.0,618.9 313.4,628.3 313.4,632.5 297.0,623.2" fill="none" stroke="#141414" stroke-width="0.9" stroke-linejoin="miter"/>
<line x1="298.0" y1="621.9" x2="313.0" y2="630.6" stroke="#141414" stroke-width="1.6"/>
<line x1="304.5" y1="579.7" x2="304.5" y2="598.3" stroke="#141414" stroke-width="0.9"/>
<polygon points="304.5,579.7 306.0,583.7 303.0,583.7" fill="#141414"/>
<polygon points="304.5,598.3 303.0,594.3 306.0,594.3" fill="#141414"/>
<polyline points="302.6,563.6 309.0,581.0 305.0,583.0" fill="none" stroke="#141414" stroke-width="0.9" stroke-linejoin="miter"/>
<polygon points="302.6,563.6 305.4,566.8 302.6,567.9" fill="#141414"/>
<line x1="313.5" y1="575.2" x2="384.3" y2="616.9" stroke="#141414" stroke-width="0.9"/>
<polygon points="313.5,575.2 318.1,576.2 316.6,578.8" fill="#141414"/>
<polygon points="384.3,616.9 379.7,615.9 381.2,613.3" fill="#141414"/>
<polyline points="332.0,586.9 337.3,570.7 345.7,570.6" fill="none" stroke="#141414" stroke-width="0.9" stroke-linejoin="miter"/>
<polygon points="345.7,570.6 341.2,572.2 341.2,569.0" fill="#141414"/>
<line x1="345.7" y1="625.5" x2="381.7" y2="604.9" stroke="#141414" stroke-width="0.9"/>
<polygon points="345.7,625.5 348.9,622.0 350.4,624.6" fill="#141414"/>
<polygon points="381.7,604.9 378.5,608.4 377.0,605.8" fill="#141414"/>
<polyline points="378.3,606.6 381.7,591.2 392.0,591.2" fill="none" stroke="#141414" stroke-width="0.9" stroke-linejoin="miter"/>
<polygon points="392.0,591.2 387.5,592.8 387.5,589.6" fill="#141414"/>
<line x1="251.9" y1="584.6" x2="251.9" y2="621.5" stroke="#141414" stroke-width="0.9"/>
<polygon points="251.9,584.6 254.1,590.6 249.7,590.6" fill="#141414"/>
<polygon points="251.9,621.5 249.7,615.5 254.1,615.5" fill="#141414"/>
<line x1="247.0" y1="584.6" x2="255.8" y2="584.6" stroke="#141414" stroke-width="0.9"/>
<line x1="247.0" y1="621.5" x2="255.8" y2="621.5" stroke="#141414" stroke-width="0.9"/>
<line x1="260.4" y1="635.6" x2="341.8" y2="681.7" stroke="#141414" stroke-width="0.9"/>
<polygon points="260.4,635.6 266.7,636.6 264.5,640.5" fill="#141414"/>
<polygon points="341.8,681.7 335.5,680.7 337.7,676.8" fill="#141414"/>
<line x1="258.5" y1="639.0" x2="262.0" y2="632.0" stroke="#141414" stroke-width="0.9"/>
<line x1="340.0" y1="685.0" x2="343.5" y2="678.0" stroke="#141414" stroke-width="0.9"/>
<text x="304.33" y="561.00" font-size="10.40" text-anchor="middle" textLength="23.91" lengthAdjust="spacingAndGlyphs">3.94"</text>
<text x="362.00" y="574.08" font-size="10.40" text-anchor="middle" textLength="29.69" lengthAdjust="spacingAndGlyphs">16.18"</text>
<text x="407.82" y="595.34" font-size="10.40" text-anchor="middle" textLength="29.49" lengthAdjust="spacingAndGlyphs">11.18"</text>
<text x="228.93" y="609.06" font-size="15.50" text-anchor="middle" textLength="40.28" lengthAdjust="spacingAndGlyphs">7.09"</text>
<text x="280.61" y="674.56" font-size="15.50" text-anchor="middle" textLength="49.80" lengthAdjust="spacingAndGlyphs">18.15"</text>
</svg></body></html>
